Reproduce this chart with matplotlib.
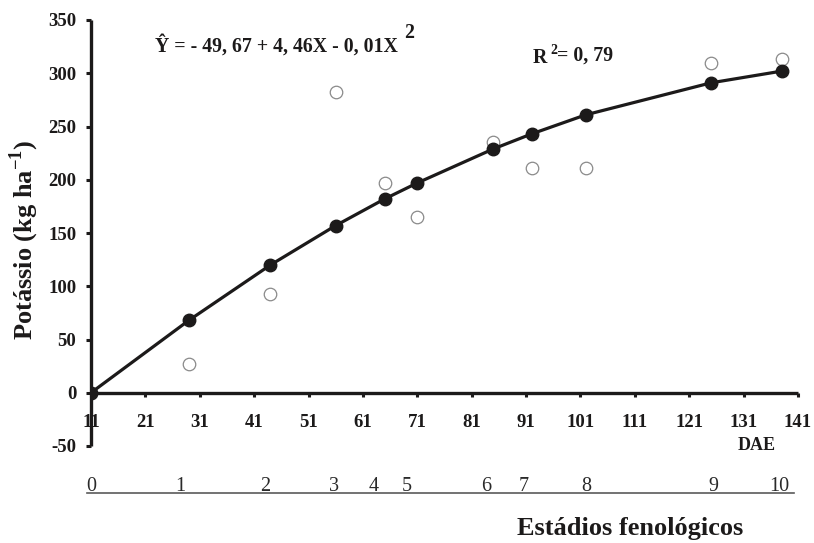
import matplotlib
matplotlib.use("Agg")
import matplotlib.pyplot as plt

plt.rcParams["font.family"] = ["Liberation Serif", "DejaVu Serif"]
plt.rcParams["mathtext.fontset"] = "custom"
plt.rcParams["mathtext.rm"] = "Liberation Serif"
plt.rcParams["mathtext.bf"] = "Liberation Serif:bold"
plt.rcParams["axes.unicode_minus"] = False

# dias após emergência (DAE)
dae = [11, 29, 44, 56, 65, 71, 85, 92, 102, 125, 138]
# potássio observado (kg/ha)
k_obs = [0, 27, 93, 282, 197, 165, 235, 211, 211, 310, 313]
# potássio estimado pela regressão
k_fit = [0, 68, 120, 157, 182, 197, 229, 243, 261, 291, 302]

x_ticks = [11, 21, 31, 41, 51, 61, 71, 81, 91, 101, 111, 121, 131, 141]
y_ticks = [-50, 0, 50, 100, 150, 200, 250, 300, 350]

# estádios fenológicos e sua posição em DAE
stage_labels = ["0", "1", "2", "3", "4", "5", "6", "7", "8", "9", "10"]
stage_dae = [11, 27.5, 43, 55.6, 63, 69, 83.7, 90.5, 102, 125.4, 137.6]

dark = "#1c1a1a"

fig = plt.figure(figsize=(8.14, 5.43), dpi=100)
ax = fig.add_axes([91 / 814, 1 - 446 / 543, 707 / 814, 426 / 543])

ax.plot(dae, k_obs, linestyle="none", marker="o", markersize=9,
        markerfacecolor="white", markeredgecolor="#8a8a8a",
        markeredgewidth=0.9, zorder=2)
ax.plot(dae, k_fit, color=dark, linewidth=2.3, marker="o", markersize=9,
        markerfacecolor=dark, markeredgecolor=dark, zorder=3)

ax.set_xlim(11, 141)
ax.set_ylim(-50, 350)
ax.set_xticks(x_ticks)
ax.set_yticks(y_ticks)

for s in ("top", "right"):
    ax.spines[s].set_visible(False)
ax.spines["bottom"].set_position(("data", 0))
for s in ("left", "bottom"):
    ax.spines[s].set_linewidth(2.4)
    ax.spines[s].set_color(dark)
    ax.spines[s].set_capstyle("butt")

ax.tick_params(axis="x", direction="out", length=3, width=2.2, color=dark,
               pad=12, labelsize=13.5)
ax.tick_params(axis="y", direction="out", length=3.5, width=2.2, color=dark,
               pad=7, labelsize=13.5)
for lab in ax.get_xticklabels() + ax.get_yticklabels():
    lab.set_fontweight("bold")
    lab.set_color(dark)

# escala de estádios fenológicos
xtr = ax.get_xaxis_transform()
ax.plot([10.2, 140.3], [-0.1108, -0.1108], color="#5a5a5a", linewidth=1.2,
        transform=xtr, clip_on=False)
for xs, lab in zip(stage_dae, stage_labels):
    ax.text(xs, -0.1045, lab, transform=xtr, ha="center", va="baseline",
            fontsize=14.5, color="#2a2a2a", clip_on=False)

fig.text(757 / 814, 1 - 445 / 543, "DAE", ha="center", va="center",
         fontsize=13, fontweight="bold", color=dark)
fig.text(630 / 814, 1 - 528 / 543, "Estádios fenológicos", ha="center",
         va="center", fontsize=19, fontweight="bold", color=dark)
fig.text(24 / 814, 1 - 240 / 543, r"Potássio (kg ha$^{\mathbf{-1}}$)",
         rotation=90, ha="center", va="center", fontsize=19,
         fontweight="bold", color=dark)

fig.text(155 / 814, 1 - 46 / 543, "Ŷ = - 49, 67 + 4, 46X - 0, 01X",
         ha="left", va="center", fontsize=14.3, fontweight="bold", color=dark)
fig.text(404 / 814, 1 - 33 / 543, "2", ha="left", va="center",
         fontsize=14.3, fontweight="bold", color=dark)
fig.text(533 / 814, 1 - 58 / 543, "R", ha="left", va="center",
         fontsize=14.3, fontweight="bold", color=dark)
fig.text(550 / 814, 1 - 51 / 543, "2", ha="left", va="center",
         fontsize=10, fontweight="bold", color=dark)
fig.text(557 / 814, 1 - 56 / 543, "= 0, 79", ha="left", va="center",
         fontsize=14.3, fontweight="bold", color=dark)

fig.savefig("out.png", dpi=100)
